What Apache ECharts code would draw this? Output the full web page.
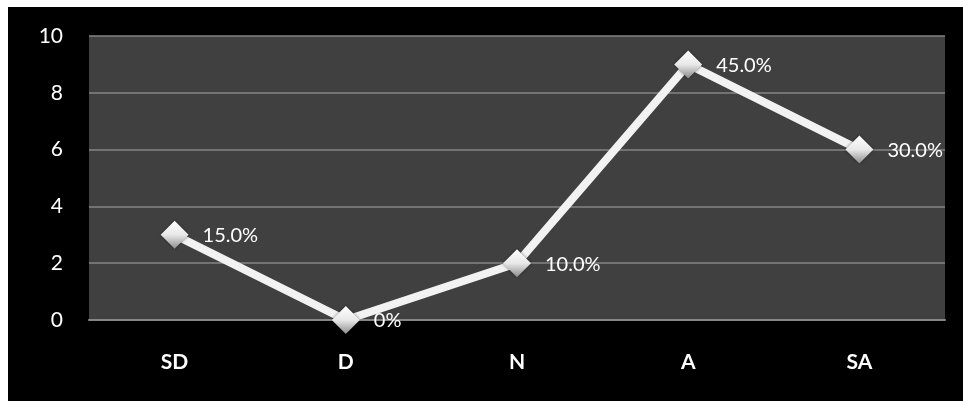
<!DOCTYPE html>
<html>
<head>
<meta charset="utf-8">
<script src="https://cdn.jsdelivr.net/npm/echarts@6/dist/echarts.min.js"></script>
<style>
html,body{margin:0;padding:0;background:#fff;}
#c{width:963px;height:401px;}
</style>
</head>
<body>
<div id="c"></div>
<script>
const categories = ['SD', 'D', 'N', 'A', 'SA'];
const values = [3, 0, 2, 9, 6];
const pctLabels = ['15.0%', '0%', '10.0%', '45.0%', '30.0%'];
const yTicks = { min: 0, max: 10, interval: 2 };

const chart = echarts.init(document.getElementById('c'), null, { renderer: 'canvas' });
const font = 'Lato, "Open Sans", sans-serif';
chart.setOption({
  backgroundColor: '#ffffff',
  animation: false,
  graphic: [{
    type: 'rect', z: -10, silent: true,
    shape: { x: 8, y: 7, width: 960, height: 400 },
    style: { fill: '#000000' }
  }],
  grid: { left: 89, right: 18, top: 36, bottom: 81, show: true, backgroundColor: '#404040', borderWidth: 0 },
  xAxis: {
    type: 'category',
    data: categories,
    boundaryGap: true,
    axisLine: { show: true, lineStyle: { color: '#868686', width: 2 } },
    axisTick: { show: false },
    axisLabel: { color: '#ffffff', fontSize: 21, fontWeight: 'bold', fontFamily: font, margin: 32 }
  },
  yAxis: {
    type: 'value',
    min: yTicks.min, max: yTicks.max, interval: yTicks.interval,
    axisLine: { show: false },
    axisTick: { show: false },
    splitLine: { show: true, lineStyle: { color: '#858585', width: 1.5 } },
    axisLabel: { color: '#ffffff', fontSize: 21, fontFamily: font, margin: 26 }
  },
  series: [{
    type: 'line',
    data: values,
    symbol: 'diamond',
    symbolSize: 28,
    lineStyle: { color: '#f2f2f2', width: 8 },
    itemStyle: {
      color: new echarts.graphic.LinearGradient(0, 0, 0, 1, [
        { offset: 0, color: '#ffffff' },
        { offset: 0.5, color: '#e8e8e8' },
        { offset: 1, color: '#8c8c8c' }
      ]),
      shadowColor: 'rgba(0,0,0,0.5)', shadowBlur: 3
    },
    label: {
      show: true,
      position: 'right',
      distance: 14,
      offset: [0, 1],
      color: '#ffffff',
      fontSize: 20,
      fontFamily: font,
      formatter: p => pctLabels[p.dataIndex]
    },
    z: 5
  }]
});
</script>
</body>
</html>
